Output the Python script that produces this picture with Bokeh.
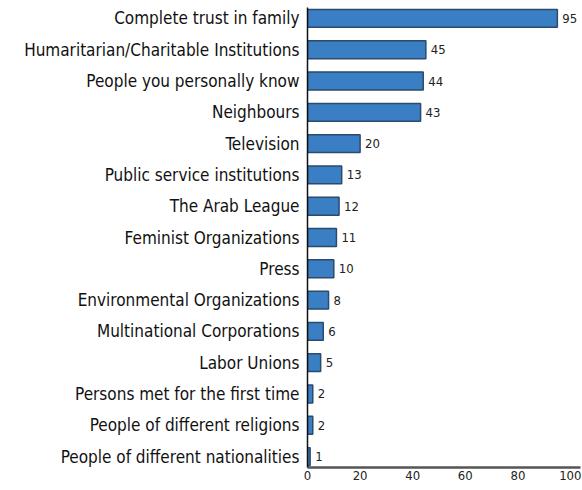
from bokeh.plotting import figure
from bokeh.models import FactorRange, Range1d, ColumnDataSource, FixedTicker
from bokeh.core.properties import value
from bokeh.embed import file_html
from bokeh.resources import INLINE

categories = [
    "Complete trust in family",
    "Humaritarian/Charitable Institutions",
    "People you personally know",
    "Neighbours",
    "Television",
    "Public service institutions",
    "The Arab League",
    "Feminist Organizations",
    "Press",
    "Environmental Organizations",
    "Multinational Corporations",
    "Labor Unions",
    "Persons met for the first time",
    "People of different religions",
    "People of different nationalities",
]
values = [95, 45, 44, 43, 20, 13, 12, 11, 10, 8, 6, 5, 2, 2, 1]
x_ticks = [0, 20, 40, 60, 80, 100]

FONT = "'DejaVu Sans Condensed', 'Roboto Condensed', Roboto, sans-serif"

src = ColumnDataSource(dict(cat=categories, val=values, lab=[str(v) for v in values]))

p = figure(
    width=581, height=488,
    y_range=FactorRange(factors=list(reversed(categories)), range_padding=-0.15,
                        range_padding_units="absolute"),
    x_range=Range1d(0, 103.8),
    output_backend="svg", toolbar_location=None,
    min_border_left=307, min_border_right=1, min_border_top=7, min_border_bottom=21,
)
p.outline_line_color = None
p.background_fill_color = "white"
p.xgrid.visible = False
p.ygrid.visible = False

p.hbar(y="cat", right="val", left=0, height=0.57, source=src,
       fill_color="#3a7fc4", line_color="#2b4a6c", line_width=1.5)
p.text(x="val", y="cat", text="lab", source=src, x_offset=5,
       text_baseline="middle", text_align="left", text_font_size="13px",
       text_font=value(FONT), text_color="#222222")

p.xaxis.ticker = FixedTicker(ticks=x_ticks)
p.xaxis.major_tick_line_color = None
p.xaxis.minor_tick_line_color = None
p.xaxis.major_tick_out = 0
p.xaxis.major_label_standoff = 3
p.xaxis.major_label_text_font = FONT
p.xaxis.major_label_text_font_size = "13px"
p.xaxis.major_label_text_color = "#222222"
p.xaxis.axis_line_color = "#555555"
p.xaxis.axis_line_width = 2.5

p.yaxis.major_tick_line_color = None
p.yaxis.minor_tick_line_color = None
p.yaxis.major_tick_out = 0
p.yaxis.major_label_standoff = 8
p.yaxis.major_label_text_font = FONT
p.yaxis.major_label_text_font_size = "17px"
p.yaxis.major_label_text_color = "#111111"
p.yaxis.axis_line_color = "#111111"
p.yaxis.axis_line_width = 1.5

open("out.html", "w").write(file_html(p, INLINE))
